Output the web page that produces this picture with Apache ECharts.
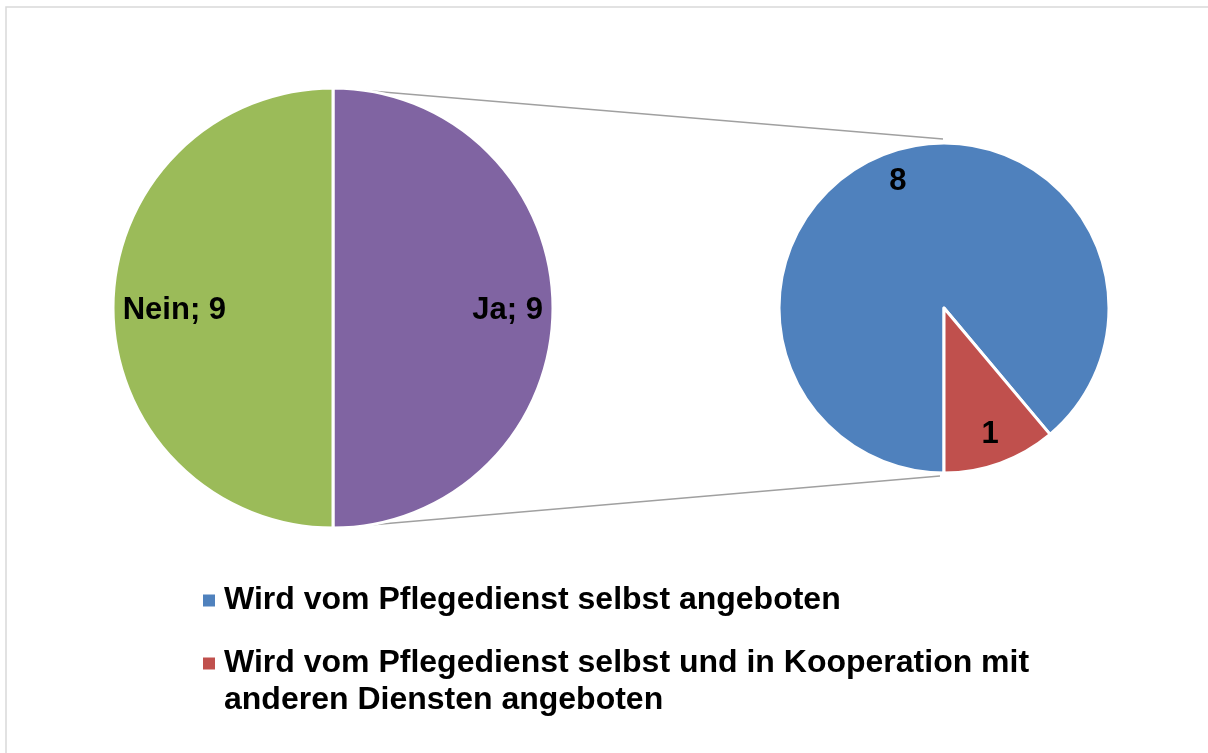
<!DOCTYPE html>
<html>
<head>
<meta charset="utf-8">
<script src="https://cdn.jsdelivr.net/npm/echarts@6/dist/echarts.min.js"></script>
<style>
  html, body { margin: 0; padding: 0; background: #fff; }
  #chart { width: 1208px; height: 753px; }
</style>
</head>
<body>
<div id="chart"></div>
<script>
// Hauptkreis: Ja / Nein
const mainNames = ["Ja", "Nein"];
const mainValues = [9, 9];
const mainColors = ["#8064A2", "#9BBB59"];

// Aufteilung von "Ja"
const subNames = [
  "Wird vom Pflegedienst selbst angeboten",
  "Wird vom Pflegedienst selbst und in Kooperation mit anderen Diensten angeboten",
];
const subValues = [8, 1];
const subColors = ["#4F81BD", "#C0504D"];

const FONT = "'Liberation Sans', Arial, sans-serif";
const bigC = [333, 308], bigR = 220;
const smallC = [944, 308], smallR = 165;

function pieData(names, values, colors) {
  return names.map((n, i) => ({
    name: n,
    value: values[i],
    itemStyle: { color: colors[i] },
  }));
}

const labelStyle = {
  show: true,
  position: "inside",
  color: "#000",
  fontFamily: FONT,
  fontWeight: "bold",
  fontSize: 31,
};

const legendText = {
  color: "#000",
  fontFamily: FONT,
  fontWeight: "bold",
  fontSize: 32,
  lineHeight: 37,
  padding: [0, 0, 0, 4],
};

const chart = echarts.init(document.getElementById("chart"));
chart.setOption({
  animation: false,
  legend: [
    {
      data: [subNames[0]],
      orient: "vertical",
      left: 203,
      top: 582,
      padding: 0,
      icon: "rect",
      itemWidth: 12,
      itemHeight: 12,
      itemStyle: { borderWidth: 0 },
      textStyle: legendText,
    },
    {
      data: [subNames[1]],
      orient: "vertical",
      left: 203,
      top: 608,
      padding: 0,
      icon: "rect",
      itemWidth: 12,
      itemHeight: 12,
      itemStyle: { borderWidth: 0 },
      // leere erste Zeile, damit das Symbol neben der ersten Textzeile steht
      formatter: (n) => "\n" + n.replace(" mit anderen", " mit\nanderen"),
      textStyle: legendText,
    },
  ],
  graphic: [
    {
      type: "rect",
      shape: { x: 6, y: 7, width: 1230, height: 780 },
      style: { fill: "none", stroke: "#d9d9d9", lineWidth: 1.5 },
      silent: true,
    },
    {
      type: "line",
      shape: { x1: bigC[0] + 2, y1: bigC[1] - bigR, x2: smallC[0] - 1, y2: smallC[1] - smallR - 4 },
      style: { stroke: "#a0a0a0", lineWidth: 1.5 },
      silent: true,
    },
    {
      type: "line",
      shape: { x1: bigC[0] + 2, y1: bigC[1] + bigR, x2: smallC[0] - 4, y2: smallC[1] + smallR + 3 },
      style: { stroke: "#a0a0a0", lineWidth: 1.5 },
      silent: true,
    },
  ],
  series: [
    {
      type: "pie",
      center: bigC,
      radius: bigR,
      startAngle: 90,
      silent: true,
      label: { show: false },
      labelLine: { show: false },
      itemStyle: { borderColor: "#fff", borderWidth: 3 },
      data: pieData(mainNames, mainValues, mainColors),
    },
    {
      // nur Beschriftung, weiter außen
      type: "pie",
      center: bigC,
      radius: [bigR * 0.56, bigR],
      startAngle: 90,
      silent: true,
      z: 5,
      itemStyle: { color: "rgba(0,0,0,0)", borderWidth: 0 },
      label: Object.assign({}, labelStyle, { formatter: "{b}; {c}" }),
      labelLine: { show: false },
      labelLayout: (p) => (p.dataIndex === 1 ? { dx: 16, dy: 2 } : { dy: 2 }),
      data: mainNames.map((n, i) => ({ name: n, value: mainValues[i] })),
    },
    {
      type: "pie",
      center: smallC,
      radius: smallR,
      startAngle: -90,
      silent: true,
      label: { show: false },
      labelLine: { show: false },
      itemStyle: { borderColor: "#fff", borderWidth: 3 },
      data: pieData(subNames, subValues, subColors),
    },
    {
      type: "pie",
      center: smallC,
      radius: [smallR * 0.6, smallR],
      startAngle: -90,
      silent: true,
      z: 5,
      itemStyle: { color: "rgba(0,0,0,0)", borderWidth: 0 },
      label: Object.assign({}, labelStyle, { formatter: "{c}" }),
      labelLine: { show: false },
      data: subNames.map((n, i) => ({ name: n, value: subValues[i] })),
    },
  ],
});
</script>
</body>
</html>
